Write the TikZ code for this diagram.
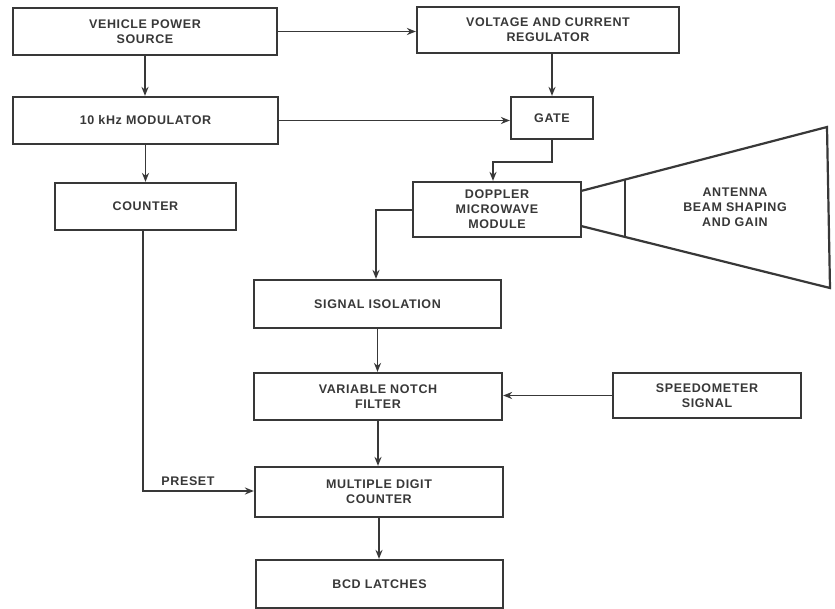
\documentclass[tikz,border=0pt]{standalone}
\usepackage{fontspec}
\setmainfont{Liberation Sans}[LetterSpace=5]
\usetikzlibrary{arrows.meta}
\definecolor{ink}{HTML}{383838}
\begin{document}
\begin{tikzpicture}[x=1pt,y=-1pt,
  box/.style={draw=ink,line width=2.2pt,rectangle,inner sep=0pt,align=center,text=ink,
    font=\fontsize{12.5}{15}\selectfont\bfseries},
  arr/.style={draw=ink,line width=1.8pt,-{Stealth[length=9pt,width=7pt]}},
  lbl/.style={text=ink,font=\fontsize{12.5}{15}\selectfont\bfseries,inner sep=0pt,align=center}]
\useasboundingbox[fill=white] (0,0) rectangle (835,609);
\node[box,minimum width=264pt,minimum height=47pt] (VPS) at (145,31.5) {VEHICLE POWER\\SOURCE};
\node[box,minimum width=262pt,minimum height=46pt] (VCR) at (548,30) {VOLTAGE AND CURRENT\\REGULATOR};
\node[box,minimum width=265pt,minimum height=47pt] (MOD) at (145.5,120.5) {10 kHz MODULATOR};
\node[box,minimum width=82pt,minimum height=42pt] (GATE) at (552,118) {GATE};
\node[box,minimum width=181pt,minimum height=47pt] (CNT) at (145.5,206.5) {COUNTER};
\node[box,minimum width=168pt,minimum height=55pt] (DOP) at (497,209.5) {DOPPLER\\MICROWAVE\\MODULE};
\node[box,minimum width=247pt,minimum height=48pt] (SI) at (377.5,304) {SIGNAL ISOLATION};
\node[box,minimum width=248pt,minimum height=47pt] (VNF) at (378,396.5) {VARIABLE NOTCH\\FILTER};
\node[box,minimum width=188pt,minimum height=45pt] (SPD) at (707,395.5) {SPEEDOMETER\\SIGNAL};
\node[box,minimum width=248pt,minimum height=50pt] (MDC) at (379,492) {MULTIPLE DIGIT\\COUNTER};
\node[box,minimum width=247pt,minimum height=48pt] (BCD) at (379.5,584) {BCD LATCHES};
% horn antenna
\coordinate (h1) at (581,191);
\coordinate (h2) at (827,127);
\coordinate (h3) at (830,288);
\coordinate (h4) at (581,226);
\coordinate (v1) at (625,179.6);
\coordinate (v2) at (625,237);
\draw[ink,line width=2.2pt,line join=miter] (h1) -- (h2) -- (h3) -- (h4);
\draw[ink,line width=2.2pt] (v1) -- (v2);
\node[lbl] (ANT) at (735,207) {ANTENNA\\BEAM SHAPING\\AND GAIN};
% connectors
\draw[arr] (VPS.east) -- (VCR.west |- VPS.east);
\draw[arr] (VPS.south) -- (VPS.south |- MOD.north);
\draw[arr] (MOD.east) -- (GATE.west |- MOD.east);
\draw[arr] (MOD.south) -- (MOD.south |- CNT.north);
\draw[arr] (VCR.south -| GATE.north) -- (GATE.north);
\coordinate (gd) at (493,162);
\draw[arr] (GATE.south) |- (gd) -- (gd |- DOP.north);
\coordinate (ds) at (376,210);
\draw[arr] (DOP.west |- ds) -- (ds) -- (ds |- SI.north);
\draw[arr] (SI.south) -- (SI.south |- VNF.north);
\draw[arr] (SPD.west) -- (VNF.east |- SPD.west);
\draw[arr] (VNF.south) -- (VNF.south |- MDC.north);
\draw[arr] (MDC.south) -- (MDC.south |- BCD.north);
\coordinate (pr) at (143,491);
\draw[arr] (CNT.south -| pr) -- (pr) -- (MDC.west |- pr);
\node[lbl] (PRE) at (188,481) {PRESET};
\end{tikzpicture}
\end{document}
